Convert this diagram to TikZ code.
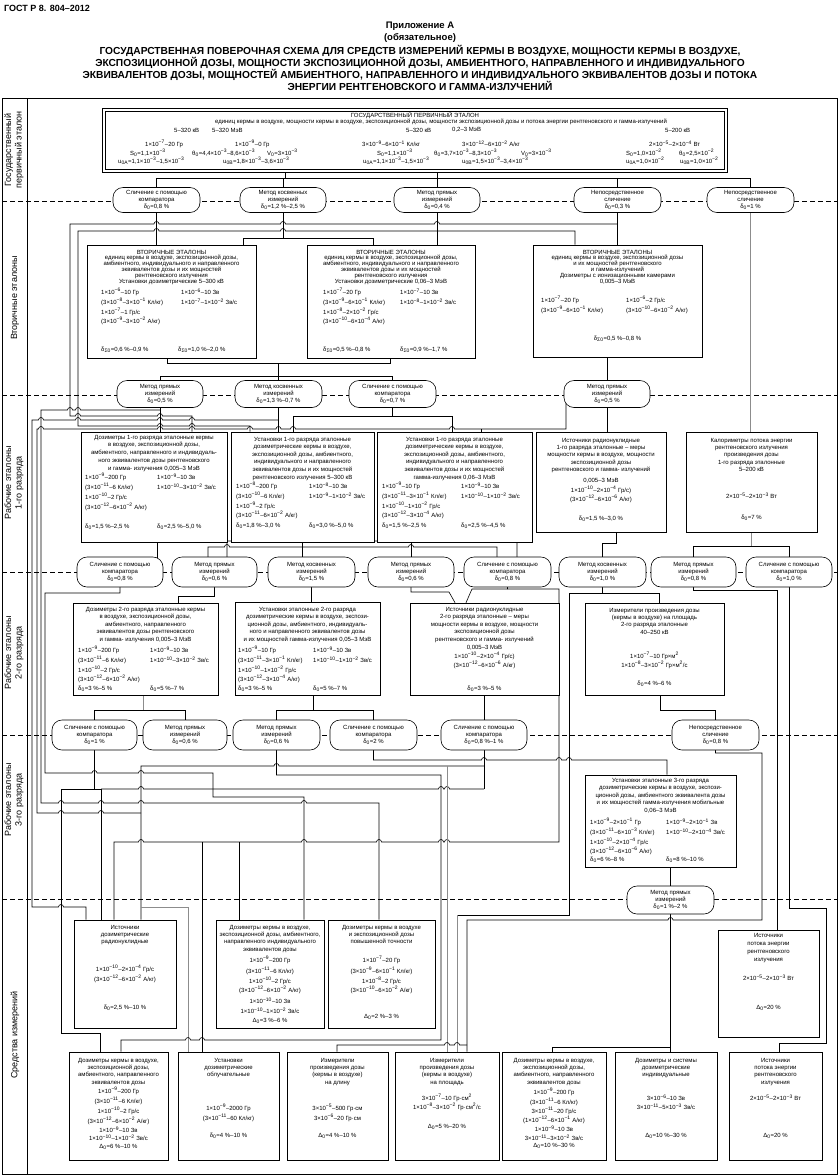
\documentclass[tikz,border=0pt]{standalone}
\usepackage{fontspec}
\setmainfont{Liberation Sans}
\usetikzlibrary{backgrounds}
\newcommand\pw[1]{\textsuperscript{#1}}
\newcommand\ix[1]{\textsubscript{#1}}
\newcommand\ft{\fontsize{6}{6.2}\selectfont}
\newcommand\hopr[2]{-- ({#1-2.5},#2) arc[start angle=180,end angle=0,radius=2.5pt]}
\newcommand\hopl[2]{-- ({#1+2.5},#2) arc[start angle=0,end angle=180,radius=2.5pt]}
\newcommand\BX[5]{\pgfmathsetmacro\bw{#4-#2}\pgfmathsetmacro\bh{#5-#3}\node[bx,minimum width=\bw pt,minimum height=\bh pt] (#1) at ({(#2+#4)/2},{(#3+#5)/2}) {};}
\newcommand\OV[6]{\pgfmathsetmacro\bw{#3-#2}\node[ov,minimum width=\bw pt,minimum height=#5pt] (#1) at ({(#2+#3)/2},#4) {#6};}
\newcommand\TxC[3]{\node[tx] at (#1,#2) {#3};}
\newcommand\TxL[3]{\node[tx,anchor=west] at (#1,#2) {#3};}
\newcommand\HD[4]{\node[tx,anchor=north,font=\fontsize{6}{#3}\selectfont] at (#1,#2) {#4};}
\tikzset{
  ln/.style={line width=0.6pt,draw=black},
  gl/.style={line width=0.6pt,draw=black!45},
  dl/.style={line width=0.6pt,dash pattern=on 5pt off 3pt},
  bx/.style={draw,line width=0.7pt,fill=white,inner sep=0pt,rectangle},
  ov/.style={draw,line width=0.6pt,fill=white,rounded corners=10pt,inner sep=0pt,align=center,font=\fontsize{6}{7.2}\selectfont},
  tx/.style={inner sep=0pt,align=center,font=\ft},
}
\begin{document}
\begin{tikzpicture}[x=1pt,y=-1pt]
\useasboundingbox (0,0) rectangle (839,1176);
% ---------- header ----------
\node[anchor=west,inner sep=0pt,font=\bfseries\fontsize{9}{11}\selectfont] at (4,8) {ГОСТ Р 8. 804–2012};
\node[inner sep=0pt,font=\bfseries\fontsize{9.5}{11}\selectfont] at (420,26) {Приложение А};
\node[inner sep=0pt,font=\bfseries\fontsize{9.5}{11}\selectfont] at (420,38) {(обязательное)};
\node[anchor=north,inner sep=0pt,align=center,font=\bfseries\fontsize{10.2}{12}\selectfont] at (420,45.5)
 {ГОСУДАРСТВЕННАЯ ПОВЕРОЧНАЯ СХЕМА ДЛЯ СРЕДСТВ ИЗМЕРЕНИЙ КЕРМЫ В ВОЗДУХЕ, МОЩНОСТИ КЕРМЫ В ВОЗДУХЕ,\\
  ЭКСПОЗИЦИОННОЙ ДОЗЫ, МОЩНОСТИ ЭКСПОЗИЦИОННОЙ ДОЗЫ, АМБИЕНТНОГО, НАПРАВЛЕННОГО И ИНДИВИДУАЛЬНОГО\\
  ЭКВИВАЛЕНТОВ ДОЗЫ, МОЩНОСТЕЙ АМБИЕНТНОГО, НАПРАВЛЕННОГО И ИНДИВИДУАЛЬНОГО ЭКВИВАЛЕНТОВ ДОЗЫ И ПОТОКА\\
  ЭНЕРГИИ РЕНТГЕНОВСКОГО И ГАММА-ИЗЛУЧЕНИЙ};
% ---------- frame ----------
\draw[line width=0.8pt] (2,98) rectangle (837,1174);
\draw[line width=0.8pt] (27,98) -- (27,1174);
\begin{scope}[every node/.style={rotate=90,inner sep=0pt,align=center,font=\fontsize{9}{10.5}\selectfont}]
\node at (14,150) {Государственный\\первичный эталон};
\node at (15,298) {Вторичные эталоны};
\node at (14,483) {Рабочие эталоны\\1-го разряда};
\node at (14,653) {Рабочие эталоны\\2-го разряда};
\node at (14,800) {Рабочие эталоны\\3-го разряда};
\node at (15,1035) {Средства измерений};
\end{scope}
% ---------- primary standard ----------
\BX{P0}{102}{108}{727}{172}
\draw[line width=0.6pt] (105,111) rectangle (724,169);
\TxC{415}{115.5}{ГОСУДАРСТВЕННЫЙ ПЕРВИЧНЫЙ ЭТАЛОН}
\TxC{441}{122}{единиц кермы в воздухе, мощности кермы в воздухе, экспозиционной дозы, мощности экспозиционной дозы и потока энергии рентгеновского и гамма-излучений}
\TxL{174}{130}{5–320 кВ}\TxL{212}{130}{5–320 МэВ}
\TxL{145}{144}{1×10\pw{−7}–20 Гр}\TxL{235}{144}{1×10\pw{−9}–0 Гр}
\TxL{130}{153}{S\ix{0}=1,1×10\pw{−3}}\TxL{192}{153}{θ\ix{0}=4,4×10\pw{−3}–8,6×10\pw{−3}}\TxL{267}{153}{V\ix{0}=3×10\pw{−3}}
\TxL{118}{161}{u\ix{0A}=1,1×10\pw{−3}–1,5×10\pw{−3}}\TxL{223}{161}{u\ix{0B}=1,8×10\pw{−3}–3,6×10\pw{−3}}
\TxL{406}{130}{5–320 кВ}\TxL{452}{130}{0,2–3 МэВ}
\TxL{362}{144}{3×10\pw{−9}–6×10\pw{−1} Кл/кг}\TxL{462}{144}{3×10\pw{−12}–6×10\pw{−2} А/кг}
\TxL{377}{153}{S\ix{0}=1,1×10\pw{−3}}\TxL{434}{153}{θ\ix{0}=3,7×10\pw{−3}–8,3×10\pw{−3}}\TxL{521}{153}{V\ix{0}=3×10\pw{−3}}
\TxL{363}{161}{u\ix{0A}=1,1×10\pw{−3}–1,5×10\pw{−3}}\TxL{462}{161}{u\ix{0B}=1,5×10\pw{−3}–3,4×10\pw{−3}}
\TxL{665}{130}{5–200 кВ}
\TxL{649}{144}{2×10\pw{−5}–2×10\pw{−4} Вт}
\TxL{626}{153}{S\ix{0}=1,0×10\pw{−2}}\TxL{679}{153}{θ\ix{0}=2,5×10\pw{−2}}
\TxL{626}{161}{u\ix{0A}=1,0×10\pw{−2}}\TxL{680}{161}{u\ix{0B}=1,0×10\pw{−2}}
% ---------- secondary standards ----------
\BX{A}{87}{245}{256}{358}
\HD{171.5}{249.8}{5.8}{ВТОРИЧНЫЕ ЭТАЛОНЫ\\единиц кермы в воздухе, экспозиционной дозы,\\амбиентного, индивидуального и направленного\\эквивалентов дозы и их мощностей\\рентгеновского излучения\\Установки дозиметрические 5–300 кВ}
\TxL{101}{292}{1×10\pw{−6}–10 Гр}\TxL{181}{292}{1×10\pw{−6}–10 Зв}
\TxL{101}{302}{(3×10\pw{−8}–3×10\pw{−1} Кл/кг)}\TxL{181}{302}{1×10\pw{−7}–1×10\pw{−2} Зв/с}
\TxL{101}{312}{1×10\pw{−7}–1 Гр/с}
\TxL{101}{321}{(3×10\pw{−9}–3×10\pw{−2} А/кг)}
\TxL{101}{350}{δ\ix{Σ0}=0,6 \%–0,9 \%}\TxL{178}{350}{δ\ix{Σ0}=1,0 \%–2,0 \%}
\BX{B}{307}{245}{475}{358}
\HD{391}{249.8}{5.8}{ВТОРИЧНЫЕ ЭТАЛОНЫ\\единиц кермы в воздухе, экспозиционной дозы,\\амбиентного, индивидуального и направленного\\эквивалентов дозы и их мощностей\\рентгеновского излучения\\Установки дозиметрические 0,06–3 МэВ}
\TxL{323}{292}{1×10\pw{−7}–20 Гр}\TxL{400}{292}{1×10\pw{−7}–10 Зв}
\TxL{323}{302}{(3×10\pw{−9}–6×10\pw{−1} Кл/кг)}\TxL{400}{302}{1×10\pw{−8}–1×10\pw{−2} Зв/с}
\TxL{323}{312}{1×10\pw{−8}–2×10\pw{−2} Гр/с}
\TxL{323}{321}{(3×10\pw{−10}–6×10\pw{−4} А/кг)}
\TxL{323}{350}{δ\ix{Σ0}=0,5 \%–0,8 \%}\TxL{400}{350}{δ\ix{Σ0}=0,9 \%–1,7 \%}
\BX{C}{533}{245}{702}{357}
\HD{617.5}{249.8}{5.8}{ВТОРИЧНЫЕ ЭТАЛОНЫ\\единиц кермы в воздухе, экспозиционной дозы\\и их мощностей рентгеновского\\и гамма-излучений\\Дозиметры с ионизационными камерами\\0,005–3 МэВ}
\TxL{541}{300}{1×10\pw{−7}–20 Гр}\TxL{626}{300}{1×10\pw{−6}–2 Гр/с}
\TxL{541}{310}{(3×10\pw{−9}–6×10\pw{−1} Кл/кг)}\TxL{626}{310}{(3×10\pw{−10}–6×10\pw{−2} А/кг)}
\TxC{617.5}{339}{δ\ix{Σ0}=0,5 \%–0,8 \%}
% ---------- 1st rank ----------
\BX{D}{81}{432}{227}{542}
\HD{154}{434.8}{7.8}{Дозиметры 1-го разряда эталонные кермы\\в воздухе, экспозиционной дозы,\\амбиентного, направленного и индивидуаль-\\ного эквивалентов дозы рентгеновского\\и гамма- излучения 0,005–3 МэВ}
\TxL{85}{477}{1×10\pw{−9}–200 Гр}\TxL{157}{477}{1×10\pw{−9}–10 Зв}
\TxL{85}{487}{(3×10\pw{−11}–6 Кл/кг)}\TxL{157}{487}{1×10\pw{−10}–3×10\pw{−2} Зв/с}
\TxL{85}{497}{1×10\pw{−10}–2 Гр/с}
\TxL{85}{507}{(3×10\pw{−12}–6×10\pw{−2} А/кг)}
\TxL{85}{527}{δ\ix{0}=1,5 \%–2,5 \%}\TxL{157}{527}{δ\ix{0}=2,5 \%–5,0 \%}
\BX{E}{231}{432}{374}{542}
\HD{302.5}{436.8}{7.6}{Установки 1-го разряда эталонные\\дозиметрические кермы в воздухе,\\экспозиционной дозы, амбиентного,\\индивидуального и направленного\\эквивалентов дозы и их мощностей\\рентгеновского излучения 5–300 кВ}
\TxL{236}{486}{1×10\pw{−8}–200 Гр}\TxL{309}{486}{1×10\pw{−8}–10 Зв}
\TxL{236}{496}{(3×10\pw{−10}–6 Кл/кг)}\TxL{309}{496}{1×10\pw{−9}–1×10\pw{−2} Зв/с}
\TxL{236}{506}{1×10\pw{−9}–2 Гр/с}
\TxL{236}{515}{(3×10\pw{−11}–6×10\pw{−2} А/кг)}
\TxL{236}{526}{δ\ix{0}=1,8 \%–3,0 \%}\TxL{309}{526}{δ\ix{0}=3,0 \%–5,0 \%}
\BX{F}{377}{432}{532}{542}
\HD{454.5}{436.8}{7.6}{Установки 1-го разряда эталонные\\дозиметрические кермы в воздухе,\\экспозиционной дозы, амбиентного,\\индивидуального и направленного\\эквивалентов дозы и их мощностей\\гамма-излучения 0,06–3 МэВ}
\TxL{382}{486}{1×10\pw{−9}–10 Гр}\TxL{461}{486}{1×10\pw{−9}–10 Зв}
\TxL{382}{496}{(3×10\pw{−11}–3×10\pw{−1} Кл/кг)}\TxL{461}{496}{1×10\pw{−10}–1×10\pw{−2} Зв/с}
\TxL{382}{506}{1×10\pw{−10}–1×10\pw{−2} Гр/с}
\TxL{382}{515}{(3×10\pw{−12}–3×10\pw{−4} А/кг)}
\TxL{382}{526}{δ\ix{0}=1,5 \%–2,5 \%}\TxL{461}{526}{δ\ix{0}=2,5 \%–4,5 \%}
\BX{G}{536}{432}{666}{532}
\HD{601}{437.8}{7.3}{Источники радионуклидные\\1-го разряда эталонные – меры\\мощности кермы в воздухе, мощности\\экспозиционной дозы\\рентгеновского и гамма- излучений}
\TxC{601}{481}{0,005–3 МэВ}
\TxC{601}{490}{1×10\pw{−10}–2×10\pw{−4} Гр/с)}
\TxC{601}{499}{(3×10\pw{−12}–6×10\pw{−6} А/кг)}
\TxC{601}{519}{δ\ix{0}=1,5 \%–3,0 \%}
\BX{H}{686}{432}{817}{532}
\HD{751.5}{437.8}{7.3}{Калориметры потока энергии\\рентгеновского излучения\\произведения дозы\\1-го разряда эталонные\\5–200 кВ}
\TxC{751.5}{496}{2×10\pw{−5}–2×10\pw{−3} Вт}
\TxC{751.5}{518}{δ\ix{0}=7 \%}
% ---------- 2nd rank ----------
\BX{I}{73}{603}{218}{695}
\HD{145.5}{606.8}{7.5}{Дозиметры 2-го разряда эталонные кермы\\в воздухе, экспозиционной дозы,\\амбиентного, направленного\\эквивалентов дозы рентгеновского\\и гамма- излучения 0,005–3 МэВ}
\TxL{78}{650}{1×10\pw{−9}–200 Гр}\TxL{150}{650}{1×10\pw{−9}–10 Зв}
\TxL{78}{660}{(3×10\pw{−11}–6 Кл/кг)}\TxL{150}{660}{1×10\pw{−10}–3×10\pw{−2} Зв/с}
\TxL{78}{670}{1×10\pw{−10}–2 Гр/с}
\TxL{78}{679}{(3×10\pw{−12}–6×10\pw{−2} А/кг)}
\TxL{78}{689}{δ\ix{0}=3 \%–5 \%}\TxL{150}{689}{δ\ix{0}=5 \%–7 \%}
\BX{J}{235}{602}{380}{695}
\HD{307.5}{606.8}{7.5}{Установки эталонные 2-го разряда\\дозиметрические кермы в воздухе, экспози-\\ционной дозы, амбиентного, индивидуаль-\\ного и направленного эквивалентов дозы\\и их мощностей гамма-излучения 0,05–3 МэВ}
\TxL{238}{650}{1×10\pw{−9}–10 Гр}\TxL{313}{650}{1×10\pw{−9}–10 Зв}
\TxL{238}{660}{(3×10\pw{−11}–3×10\pw{−1} Кл/кг)}\TxL{313}{660}{1×10\pw{−10}–1×10\pw{−2} Зв/с}
\TxL{238}{670}{1×10\pw{−10}–1×10\pw{−2} Гр/с}
\TxL{238}{679}{(3×10\pw{−12}–3×10\pw{−4} А/кг)}
\TxL{238}{689}{δ\ix{0}=3 \%–5 \%}\TxL{313}{689}{δ\ix{0}=5 \%–7 \%}
\BX{K}{410}{603}{559}{695}
\HD{484.5}{606.8}{7.5}{Источники радионуклидные\\2-го разряда эталонные – меры\\мощности кермы в воздухе, мощности\\экспозиционной дозы\\рентгеновского и гамма- излучений}
\TxC{484.5}{648}{0,005–3 МэВ}
\TxC{484.5}{656}{1×10\pw{−10}–2×10\pw{−4} Гр/с)}
\TxC{484.5}{665}{(3×10\pw{−12}–6×10\pw{−6} А/кг)}
\TxC{484.5}{689}{δ\ix{0}=3 \%–5 \%}
\BX{L}{585}{603}{724}{695}
\HD{654.5}{607.8}{7.4}{Измерители произведения дозы\\(кермы в воздухе) на площадь\\2-го разряда эталонные\\40–250 кВ}
\TxC{654.5}{656}{1×10\pw{−7}–10 Гр×м\pw{2}}
\TxC{654.5}{665}{1×10\pw{−8}–3×10\pw{−2} Гр×м\pw{2}/с}
\TxC{654.5}{684}{δ\ix{0}=4 \%–6 \%}
% ---------- 3rd rank ----------
\BX{M}{585}{775}{736}{867}
\HD{660.5}{777.8}{7.5}{Установки эталонные 3-го разряда\\дозиметрические кермы в воздухе, экспози-\\ционной дозы, амбиентного эквивалента дозы\\и их мощностей гамма-излучения мобильные\\0,06–3 МэВ}
\TxL{590}{822}{1×10\pw{−9}–2×10\pw{−1} Гр}\TxL{666}{822}{1×10\pw{−9}–2×10\pw{−1} Зв}
\TxL{590}{832}{(3×10\pw{−11}–6×10\pw{−3} Кл/кг)}\TxL{666}{832}{1×10\pw{−10}–2×10\pw{−4} Зв/с}
\TxL{590}{842}{1×10\pw{−10}–2×10\pw{−4} Гр/с}
\TxL{590}{851}{(3×10\pw{−12}–6×10\pw{−6} А/кг)}
\TxL{590}{860}{δ\ix{0}=6 \%–8 \%}\TxL{666}{860}{δ\ix{0}=8 \%–10 \%}
% ---------- measuring instruments ----------
\BX{N}{74}{920}{176}{1028}
\HD{125}{924.8}{7.2}{Источники\\дозиметрические\\радионуклидные}
\TxC{125}{969}{1×10\pw{−10}–2×10\pw{−4} Гр/с}
\TxC{125}{979}{(3×10\pw{−12}–6×10\pw{−2} А/кг)}
\TxC{125}{1008}{δ\ix{0}=2,5 \%–10 \%}
\BX{Ob}{216}{920}{324}{1028}
\HD{270}{924.8}{7.3}{Дозиметры кермы в воздухе,\\экспозиционной дозы, амбиентного,\\направленного индивидуального\\эквивалентов дозы}
\TxC{270}{960}{1×10\pw{−9}–200 Гр}
\TxC{270}{971}{(3×10\pw{−11}–6 Кл/кг)}
\TxC{270}{981}{1×10\pw{−10}–2 Гр/с}
\TxC{270}{990}{(3×10\pw{−12}–6×10\pw{−2} А/кг)}
\TxC{270}{1001}{1×10\pw{−10}–10 Зв}
\TxC{270}{1011}{1×10\pw{−10}–1×10\pw{−2} Зв/с}
\TxC{270}{1021}{Δ\ix{0}=3 \%–6 \%}
\BX{Pb}{328}{920}{435}{1028}
\HD{381.5}{924.8}{7.2}{Дозиметры кермы в воздухе\\и экспозиционной дозы\\повышенной точности}
\TxC{381.5}{960}{1×10\pw{−7}–20 Гр}
\TxC{381.5}{971}{(3×10\pw{−9}–6×10\pw{−1} Кл/кг)}
\TxC{381.5}{981}{1×10\pw{−8}–2 Гр/с}
\TxC{381.5}{990}{(3×10\pw{−10}–6×10\pw{−2} А/кг)}
\TxC{381.5}{1017}{Δ\ix{0}=2 \%–3 \%}
\BX{Q}{718}{930}{819}{1037}
\HD{768.5}{932.8}{8}{Источники\\потока энергии\\рентгеновского\\излучения}
\TxC{768.5}{978}{2×10\pw{−5}–2×10\pw{−3} Вт}
\TxC{768.5}{1008}{Δ\ix{0}=20 \%}
\BX{R}{69}{1052}{168}{1160}
\HD{118.5}{1057.8}{7.3}{Дозиметры кермы в воздухе,\\экспозиционной дозы,\\амбиентного, направленного\\эквивалентов дозы}
\TxC{118.5}{1091}{1×10\pw{−9}–200 Гр}
\TxC{118.5}{1101}{(3×10\pw{−11}–6 Кл/кг)}
\TxC{118.5}{1111}{1×10\pw{−10}–2 Гр/с}
\TxC{118.5}{1121}{(3×10\pw{−12}–6×10\pw{−2} А/кг)}
\TxC{118.5}{1130}{1×10\pw{−9}–10 Зв}
\TxC{118.5}{1138}{1×10\pw{−10}–1×10\pw{−2} Зв/с}
\TxC{118.5}{1147}{Δ\ix{0}=6 \%–10 \%}
\BX{S}{178}{1052}{279}{1160}
\HD{228.5}{1057.8}{7.3}{Установки\\дозиметрические\\облучательные}
\TxC{228.5}{1108}{1×10\pw{−9}–2000 Гр}
\TxC{228.5}{1118}{(3×10\pw{−11}–60 Кл/кг)}
\TxC{228.5}{1136}{δ\ix{0}=4 \%–10 \%}
\BX{T}{287}{1052}{388}{1160}
\HD{337.5}{1057.8}{7.3}{Измерители\\произведения дозы\\(кермы в воздухе)\\на длину}
\TxC{337.5}{1108}{3×10\pw{−5}–500 Гр·см}
\TxC{337.5}{1118}{3×10\pw{−6}–20 Гр·см}
\TxC{337.5}{1136}{Δ\ix{0}=4 \%–10 \%}
\BX{U}{395}{1052}{499}{1160}
\HD{447}{1057.8}{7.3}{Измерители\\произведения дозы\\(кермы в воздухе)\\на площадь}
\TxC{447}{1098}{3×10\pw{−7}–10 Гр·см\pw{2}}
\TxC{447}{1107}{1×10\pw{−8}–3×10\pw{−2} Гр·см\pw{2}/с}
\TxC{447}{1127}{Δ\ix{0}=5 \%–20 \%}
\BX{V}{502}{1052}{606}{1160}
\HD{554}{1057.8}{7.3}{Дозиметры кермы в воздухе,\\экспозиционной дозы,\\амбиентного, направленного\\эквивалентов дозы}
\TxC{554}{1092}{1×10\pw{−9}–200 Гр}
\TxC{554}{1102}{(3×10\pw{−11}–6 Кл/кг)}
\TxC{554}{1111}{3×10\pw{−11}–20 Гр/с}
\TxC{554}{1120}{(1×10\pw{−12}–6×10\pw{−1} А/кг)}
\TxC{554}{1129}{1×10\pw{−9}–10 Зв}
\TxC{554}{1138}{3×10\pw{−11}–3×10\pw{−2} Зв/с}
\TxC{554}{1146}{Δ\ix{0}=10 \%–30 \%}
\BX{W}{615}{1052}{717}{1160}
\HD{666}{1057.8}{7.3}{Дозиметры и системы\\дозиметрические\\индивидуальные}
\TxC{666}{1098}{3×10\pw{−6}–10 Зв}
\TxC{666}{1107}{3×10\pw{−11}–5×10\pw{−3} Зв/с}
\TxC{666}{1136}{Δ\ix{0}=10 \%–30 \%}
\BX{X}{729}{1052}{822}{1160}
\HD{775.5}{1057.8}{7.3}{Источники\\потока энергии\\рентгеновского\\излучения}
\TxC{775.5}{1098}{2×10\pw{−5}–2×10\pw{−3} Вт}
\TxC{775.5}{1136}{Δ\ix{0}=20 \%}
% ---------- ovals ----------
\OV{O1}{113}{200}{200}{25}{Сличение с помощью\\компаратора\\δ\ix{0}=0,8 \%}
\OV{O2}{240}{326}{200}{25}{Метод косвенных\\измерений\\δ\ix{0}=1,2 \%–2,5 \%}
\OV{O3}{394}{480}{200}{25}{Метод прямых\\измерений\\δ\ix{0}=0,4 \%}
\OV{O4}{574}{661}{200}{25}{Непосредственное\\сличение\\δ\ix{0}=0,3 \%}
\OV{O5}{707}{794}{200}{25}{Непосредственное\\сличение\\δ\ix{0}=1 \%}
\OV{O6}{117}{203}{394}{27}{Метод прямых\\измерений\\δ\ix{0}=0,5 \%}
\OV{O7}{235}{322}{394}{27}{Метод косвенных\\измерений\\δ\ix{0}=1,3 \%–0,7 \%}
\OV{O8}{349}{436}{394}{27}{Сличение с помощью\\компаратора\\δ\ix{0}=0,7 \%}
\OV{O9}{564}{650}{394}{27}{Метод прямых\\измерений\\δ\ix{0}=0,5 \%}
\OV{O10}{77}{163}{572}{30}{Сличение с помощью\\компаратора\\δ\ix{0}=0,8 \%}
\OV{O11}{172}{257}{572}{30}{Метод прямых\\измерений\\δ\ix{0}=0,6 \%}
\OV{O12}{268}{355}{572}{30}{Метод косвенных\\измерений\\δ\ix{0}=1,5 \%}
\OV{O13}{368}{454}{572}{30}{Метод прямых\\измерений\\δ\ix{0}=0,6 \%}
\OV{O14}{464}{551}{572}{30}{Сличение с помощью\\компаратора\\δ\ix{0}=0,8 \%}
\OV{O15}{559}{646}{572}{30}{Метод косвенных\\измерений\\δ\ix{0}=1,0 \%}
\OV{O16}{651}{736}{572}{30}{Метод прямых\\измерений\\δ\ix{0}=0,8 \%}
\OV{O17}{746}{832}{572}{30}{Сличение с помощью\\компаратора\\δ\ix{0}=1,0 \%}
\OV{O18}{52}{137}{735}{30}{Сличение с помощью\\компаратора\\δ\ix{0}=1 \%}
\OV{O19}{143}{227}{735}{30}{Метод прямых\\измерений\\δ\ix{0}=0,6 \%}
\OV{O20}{233}{320}{735}{30}{Метод прямых\\измерений\\δ\ix{0}=0,6 \%}
\OV{O21}{330}{417}{735}{30}{Сличение с помощью\\компаратора\\δ\ix{0}=2 \%}
\OV{O22}{441}{527}{735}{30}{Сличение с помощью\\компаратора\\δ\ix{0}=0,8 \%–1 \%}
\OV{O23}{672}{759}{735}{30}{Непосредственное\\сличение\\δ\ix{0}=0,8 \%}
\OV{O24}{627}{714}{900}{28}{Метод прямых\\измерений\\δ\ix{0}=1 \%–2 \%}
% ---------- connectors ----------
\begin{pgfonlayer}{background}
\foreach \yy in {201,395,572,735,899} {\draw[dl] (2,\yy) -- (837,\yy);}
% band 1
\draw[ln] (285,0 |- P0.south) -- (285,178);
\draw[ln] (437,0 |- P0.south) -- (437,178);
\draw[ln] (O1.center |- 0,178) -- (O5.center |- 0,178);
\foreach \o in {O1,O2,O3,O4,O5} {\draw[ln] (\o.center |- 0,178) -- (\o.center);}
% band 2
\draw[ln] (O1.center) -- (O1.center |- A.north);
\draw[ln] (O2.center) -- (283,238);
\draw[ln] (243,0 |- A.north) -- (243,238) -- (373,238) -- (373,0 |- B.north);
\draw[ln] (O3.center) -- (O3.center |- B.north);
\draw[ln] (O4.center) -- (O4.center |- C.north);
\draw[gl] (O5.center) -- (O5.center |- H.north);
\draw[ln] (O4.center |- 0,224) \hopl{437}{224} \hopl{283}{224} \hopl{156.5}{224} -- (70,224) -- (70,416) \hopr{78}{416} \hopr{160}{416} -- (192,416) -- (192,0 |- D.north);
\draw[ln] (575,0 |- C.north) -- (575,231) -- (437,231) \hopl{283}{231} \hopl{156.5}{231} -- (78,231) -- (78,426) \hopr{160}{426} \hopr{192}{426} -- (250,426) -- (250,0 |- E.north);
\draw[ln] (167,0 |- A.south) -- (167,363) -- (390,363) -- (390,0 |- B.south);
\draw[ln] (278.5,363) -- (278.5,376);
\draw[ln] (O6.center |- 0,376) -- (O8.center |- 0,376);
\foreach \o in {O6,O7,O8} {\draw[ln] (\o.center |- 0,376) -- (\o.center);}
\draw[ln] (C.south -| O9.center) -- (O9.center);
% band 3 top
\draw[ln] (O6.center) -- (O6.center |- D.north);
\draw[ln] (O7.center) -- (O7.center |- E.north);
\draw[ln] (O8.center) -- (392.5,416);
\draw[ln] (293,0 |- E.north) -- (293,416) -- (452,416) -- (452,0 |- F.north);
\draw[ln] (O9.center) -- (O9.center |- G.north);
% left staircase
\draw[ln] (O6.center |- 0,410) \hopl{78}{410} \hopl{70}{410} -- (41,410) -- (41,803) \hopr{61}{803} \hopr{101}{803} \hopr{141}{803} \hopr{304}{803} -- (379,803) -- (379,0 |- Pb.north);
\draw[ln] (O7.center |- 0,420) \hopl{192}{420} \hopl{160}{420} \hopl{78}{420} \hopl{41}{420} -- (32,420) -- (32,907) \hopr{61}{907} -- (86,907) -- (86,0 |- N.north);
\draw[ln] (566,0 |- O9.center) -- (566,429) \hopl{452}{429} \hopl{293}{429} \hopl{278.5}{429} \hopl{250}{429} \hopl{192}{429} \hopl{160}{429} \hopl{41}{429} -- (37,429) -- (37,813) \hopr{61}{813} \hopr{101}{813} -- (141,813);
\draw[ln] (481,429) -- (481,0 |- F.north);
% band 3 bottom
\draw[ln] (157,0 |- D.south) -- (157,0 |- O10.center);
\draw[ln] (302.5,0 |- E.south) -- (302.5,0 |- O12.center);
\draw[ln] (208,0 |- O11.center) -- (208,547) \hopr{227}{547} \hopr{411}{547} -- (497,547) -- (497,0 |- O14.center);
\draw[ln] (462,0 |- F.south) -- (462,541);
\draw[ln] (227,0 |- O11.center) -- (227,541) \hopr{302.5}{541} -- (517,541) -- (517,0 |- O14.center);
\draw[ln] (411,541) -- (O13.center);
\draw[ln] (616,0 |- G.south) -- (616,543) -- (602.5,543) -- (O15.center);
\draw[gl] (751.5,0 |- H.south) -- (751.5,546);
\draw[ln] (O16.center) -- (O16.center |- 0,546) -- (O17.center |- 0,546) -- (O17.center);
% band 4 top
\draw[ln] (O10.center) -- (120,593) -- (45,593) -- (45,773) \hopr{94.5}{773} \hopr{141}{773} -- (213,773) -- (213,797) -- (304,797) -- (304,0 |- Ob.north);
\draw[ln] (O11.center) -- (214.5,596) -- (178,596) -- (178,0 |- I.north);
\draw[ln] (O12.center) -- (O12.center |- J.north);
\draw[ln] (O13.center) -- (411,592) -- (449,592) -- (455,0 |- K.north);
\draw[ln] (O14.center) -- (507.5,589) -- (472,589) -- (466,0 |- K.north);
\draw[ln] (507.5,589) -- (559,589) -- (559,842) \hopl{447}{842} \hopl{441}{842} \hopl{379}{842} \hopl{304}{842} -- (239,842) -- (202,842) \hopl{141}{842} -- (114,842) -- (114,0 |- N.north);
\draw[ln] (202,842) -- (202,0 |- S.north);
\draw[ln] (239,842) -- (239,0 |- Ob.north);
\draw[ln] (O15.center) -- (602.5,593);
\draw[ln] (659,0 |- L.north) -- (659,593) -- (569,593) -- (569,915) -- (457,915);
\draw[gl] (457,915) -- (457,0 |- U.north);
\draw[ln] (O16.center) -- (693.5,590) -- (777,590) -- (777,0 |- Q.north);
\draw[ln] (O17.center) -- (789,908) -- (826,908) -- (826,1043) -- (779,1043) -- (779,0 |- X.north);
% band 4 bottom
\draw[gl] (143,0 |- I.south) -- (143,710);
\draw[ln] (O18.center |- 0,710) -- (O19.center |- 0,710);
\foreach \o in {O18,O19,O20,O21} {\draw[ln] (\o.center |- 0,710) -- (\o.center);}
\draw[ln] (313,0 |- J.south) -- (313,710);
\draw[ln] (O20.center |- 0,710) -- (O21.center |- 0,710);
\draw[ln] (K.south -| O22.center) -- (O22.center);
\draw[ln] (660,0 |- L.south) -- (660,710) -- (715.5,710) -- (O23.center);
% band 5
\draw[ln] (O18.center) -- (94.5,789);
\draw[ln] (100,0 |- R.north) -- (100,1033) -- (61,1033) -- (61,789) -- (101,789) -- (101,0 |- N.north);
\draw[ln] (101,789) \hopr{141}{789} -- (213,789) \hopr{441}{789} \hopr{447}{789} -- (484,789);
\draw[ln] (141,0 |- N.north) -- (141,766) \hopr{276.5}{766} -- (484,766);
\draw[ln] (O22.center) -- (484,789);
\draw[gl] (141,907) -- (188,907) -- (188,0 |- S.north);
\draw[gl] (447,766) -- (447,1045);
\draw[gl] (447,1045) -- (447,0 |- U.north);
\draw[ln] (O20.center) -- (276.5,775) -- (441,775) -- (441,1040) \hopl{202}{1040} \hopl{188}{1040} -- (121,1040) -- (121,0 |- R.north);
\draw[ln] (O21.center) -- (373.5,760) \hopr{484}{760} \hopr{559}{760} \hopr{569}{760} -- (667,760) -- (667,0 |- M.north);
\draw[ln] (O23.center) -- (715.5,753) -- (762,753) -- (762,920) \hopl{670.5}{920} -- (467,920) -- (467,0 |- U.north);
\draw[ln] (467,1045) \hopl{457}{1045} \hopl{447}{1045} -- (337,1045) -- (337,0 |- T.north);
\draw[ln] (M.south -| O24.center) -- (O24.center);
\draw[ln] (O24.center) -- (O24.center |- W.north);
\draw[ln] (670.5,1047) -- (552,1047) -- (552,0 |- V.north);
\end{pgfonlayer}
\end{tikzpicture}
\end{document}
